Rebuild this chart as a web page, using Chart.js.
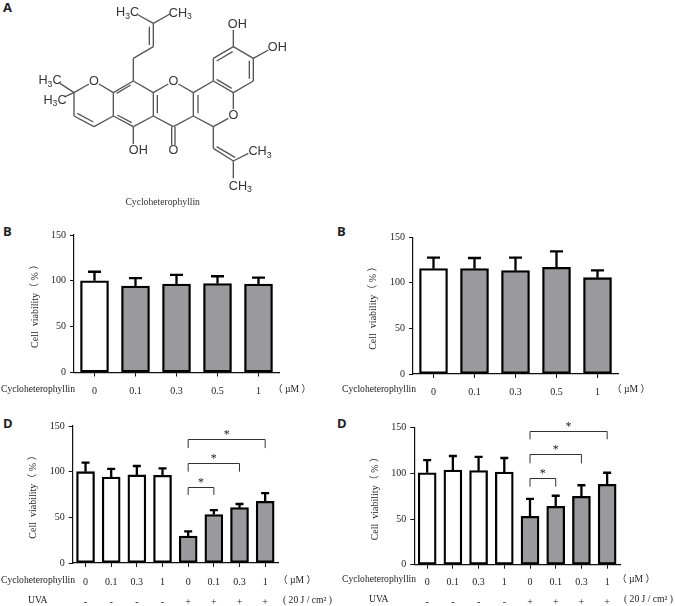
<!DOCTYPE html>
<html>
<head>
<meta charset="utf-8">
<title>Cycloheterophyllin</title>
<script src="https://cdn.jsdelivr.net/npm/chart.js@4"></script>
<style>
  html, body { margin: 0; background: #fff; }
  body { position: relative; width: 675px; height: 606px; overflow: hidden; }
  canvas { position: absolute; filter: blur(0.3px); }
  #mol { position: absolute; left: 0; top: 0; filter: blur(0.35px); }
  #mol line { stroke: #555; stroke-width: 4; }
  #mol text { font-family: "Liberation Sans", sans-serif; font-size: 38px; fill: #333; }
  #mol .cap { font-family: "Liberation Serif", serif; font-size: 29px; }
  .tag { position: absolute; font: bold 13px "Open Sans", sans-serif; color: #222; line-height: 14px; }
</style>
</head>
<body>

<div class="tag" style="left:3px;top:0">A</div>
<div class="tag" style="left:3px;top:224px">B</div>
<div class="tag" style="left:337px;top:224px">B</div>
<div class="tag" style="left:3px;top:416px">D</div>
<div class="tag" style="left:337px;top:416px">D</div>

<!-- structure drawing, units are 3x the page pixels -->
<svg id="mol" width="340" height="215" viewBox="0 0 1020 645">
  <g>
    <line x1="700" y1="140" x2="760" y2="175"/><line x1="760" y1="175" x2="760" y2="243"/>
    <line x1="760" y1="243" x2="700" y2="278"/><line x1="700" y1="278" x2="640" y2="243"/>
    <line x1="640" y1="243" x2="640" y2="175"/><line x1="640" y1="175" x2="700" y2="140"/>
    <line x1="698" y1="155" x2="650" y2="183"/><line x1="748" y1="182" x2="748" y2="236"/>
    <line x1="695" y1="265" x2="650" y2="238"/>
    <line x1="700" y1="140" x2="700" y2="90"/><line x1="760" y1="175" x2="805" y2="150"/>
    <line x1="700" y1="278" x2="700" y2="328"/><line x1="685" y1="355" x2="640" y2="380"/>
    <line x1="640" y1="380" x2="580" y2="348"/><line x1="580" y1="348" x2="580" y2="278"/>
    <line x1="580" y1="278" x2="640" y2="243"/><line x1="594" y1="285" x2="594" y2="340"/>
    <line x1="580" y1="278" x2="535" y2="252"/><line x1="505" y1="252" x2="460" y2="278"/>
    <line x1="460" y1="278" x2="460" y2="348"/><line x1="472" y1="285" x2="472" y2="340"/>
    <line x1="460" y1="348" x2="520" y2="380"/><line x1="520" y1="380" x2="580" y2="348"/>
    <line x1="515" y1="380" x2="515" y2="435"/><line x1="525" y1="380" x2="525" y2="435"/>
    <line x1="460" y1="278" x2="400" y2="243"/><line x1="400" y1="243" x2="340" y2="278"/>
    <line x1="392" y1="255" x2="350" y2="280"/><line x1="340" y1="278" x2="340" y2="348"/>
    <line x1="340" y1="348" x2="400" y2="380"/><line x1="352" y1="345" x2="395" y2="368"/>
    <line x1="400" y1="380" x2="460" y2="348"/><line x1="400" y1="380" x2="400" y2="432"/>
    <line x1="400" y1="243" x2="400" y2="175"/><line x1="400" y1="175" x2="460" y2="140"/>
    <line x1="460" y1="140" x2="460" y2="70"/><line x1="448" y1="135" x2="448" y2="80"/>
    <line x1="460" y1="70" x2="415" y2="45"/><line x1="460" y1="70" x2="510" y2="42"/>
    <line x1="340" y1="278" x2="297" y2="252"/><line x1="267" y1="252" x2="222" y2="278"/>
    <line x1="222" y1="278" x2="222" y2="348"/><line x1="222" y1="348" x2="282" y2="380"/>
    <line x1="232" y1="340" x2="280" y2="366"/><line x1="282" y1="380" x2="340" y2="348"/>
    <line x1="222" y1="278" x2="180" y2="250"/><line x1="222" y1="278" x2="195" y2="290"/>
    <line x1="640" y1="380" x2="640" y2="445"/><line x1="640" y1="445" x2="700" y2="483"/>
    <line x1="650" y1="440" x2="705" y2="472"/><line x1="700" y1="483" x2="745" y2="460"/>
    <line x1="700" y1="483" x2="700" y2="535"/>
  </g>
  <g text-anchor="middle">
    <text x="712" y="84">OH</text>
    <text x="832" y="153">OH</text>
    <text x="700" y="358">O</text>
    <text x="520" y="256">O</text>
    <text x="520" y="463">O</text>
    <text x="282" y="256">O</text>
    <text x="415" y="463">OH</text>
    <text x="383" y="49">H<tspan font-size="26" dy="7">3</tspan><tspan dy="-7">C</tspan></text>
    <text x="541" y="50">CH<tspan font-size="26" dy="7">3</tspan></text>
    <text x="150" y="253">H<tspan font-size="26" dy="7">3</tspan><tspan dy="-7">C</tspan></text>
    <text x="165" y="311">H<tspan font-size="26" dy="7">3</tspan><tspan dy="-7">C</tspan></text>
    <text x="780" y="466">CH<tspan font-size="26" dy="7">3</tspan></text>
    <text x="721" y="569">CH<tspan font-size="26" dy="7">3</tspan></text>
    <text class="cap" x="488" y="616">Cycloheterophyllin</text>
  </g>
</svg>

<canvas id="b1"></canvas>
<canvas id="b2"></canvas>
<canvas id="d1"></canvas>
<canvas id="d2"></canvas>

<script>
// concentrations
const doseLabels = ["0", "0.1", "0.3", "0.5", "1"];
const uvaDoseLabels = ["0", "0.1", "0.3", "1", "0", "0.1", "0.3", "1"];
const uvaSigns = ["-", "-", "-", "-", "+", "+", "+", "+"];

// cell viability (%), bar top and top of the error bar
const b1Values = [100, 94.2, 96.4, 97, 96.4];
const b1Upper = [109.9, 103, 106.6, 105, 103.6];
const b2Values = [115.6, 115.6, 113.4, 117, 105.7];
const b2Upper = [127.7, 127.3, 127.7, 134.6, 113.8];
const d1Values = [100, 94, 96.4, 96, 29.6, 53, 60.6, 67.5];
const d1Upper = [110, 103, 106.2, 103.6, 34.7, 58, 64.6, 76.6];
const d2Values = [100.7, 103.6, 103, 101.5, 53, 64, 74.8, 88];
const d2Upper = [114.6, 119, 118, 116.8, 72, 75.5, 87, 100.7];

// significance brackets: [from bar, to bar, line value, end of the drop]
const d1Brackets = [[4, 7, 135.4, 125.8], [4, 6, 109, 100], [4, 5, 82.9, 74.5]];
const d2Brackets = [[4, 7, 146, 137.3], [4, 6, 121, 111], [4, 5, 94.6, 85.4]];

const serif = '"Liberation Serif", "Noto Sans CJK SC", serif';
const ink = "#222";

// error bars, brackets and the row captions below the axis
const extras = {
    id: "extras",
    afterDatasetsDraw(chart, args, o) {
        const { ctx } = chart;
        const x = chart.scales.x, y = chart.scales.y;
        ctx.save();
        ctx.strokeStyle = "#000";
        ctx.lineWidth = 2.3;
        o.upper.forEach((top, i) => {
            const px = x.getPixelForValue(i);
            ctx.beginPath();
            ctx.moveTo(px, y.getPixelForValue(chart.data.datasets[0].data[i]));
            ctx.lineTo(px, y.getPixelForValue(top));
            ctx.moveTo(px - o.cap, y.getPixelForValue(top));
            ctx.lineTo(px + o.cap, y.getPixelForValue(top));
            ctx.stroke();
        });

        ctx.strokeStyle = "#333";
        ctx.lineWidth = 1;
        ctx.fillStyle = ink;
        (o.brackets || []).forEach(([a, b, line, drop]) => {
            const xa = x.getPixelForValue(a), xb = x.getPixelForValue(b);
            const yl = Math.round(y.getPixelForValue(line)) + 0.5;
            ctx.beginPath();
            ctx.moveTo(xa, y.getPixelForValue(drop));
            ctx.lineTo(xa, yl);
            ctx.lineTo(xb, yl);
            ctx.lineTo(xb, y.getPixelForValue(drop));
            ctx.stroke();
            ctx.font = "12px " + serif;
            ctx.textAlign = "center";
            ctx.textBaseline = "middle";
            ctx.fillText("*", (xa + xb) / 2, yl - 5);
        });

        ctx.font = "9.6px " + serif;
        ctx.textBaseline = "middle";
        ctx.textAlign = "left";
        o.captions.forEach(c => ctx.fillText(c.text, c.x, y.bottom + c.dy));
        ctx.restore();
    }
};

function drawPanel(id, box, labels, values, opts) {
    const canvas = document.getElementById(id);
    canvas.width = box.w;
    canvas.height = box.h;
    canvas.style.left = box.left + "px";
    canvas.style.top = box.top + "px";
    new Chart(canvas, {
        type: "bar",
        data: {
            labels: labels,
            datasets: [{
                data: values,
                backgroundColor: values.map((v, i) => i < opts.openBars ? "#ffffff" : "#9a9a9c"),
                borderColor: "#000",
                borderWidth: 2.3,
                borderSkipped: false,
                barThickness: opts.barWidth
            }]
        },
        plugins: [extras],
        options: {
            responsive: false,
            animation: false,
            layout: {
                padding: {
                    left: 0,
                    top: box.y150 - box.top,
                    right: box.left + box.w - box.xEnd,
                    bottom: box.top + box.h - box.y0 - 42
                }
            },
            plugins: {
                legend: { display: false },
                tooltip: { enabled: false },
                extras: { upper: opts.upper, cap: opts.cap, brackets: opts.brackets, captions: opts.captions }
            },
            scales: {
                x: {
                    offset: true,
                    afterFit: s => { s.height = 42; },
                    border: { color: "#111", width: 1.2 },
                    grid: { offset: false, drawOnChartArea: false, color: "#111", tickLength: 4 },
                    ticks: {
                        color: ink,
                        padding: box.tickGap,
                        maxRotation: 0,
                        autoSkip: false,
                        font: { family: serif, size: 10, lineHeight: "20px" }
                    }
                },
                y: {
                    min: 0,
                    max: 150,
                    afterFit: s => { s.width = box.x0 - box.left; },
                    border: { color: "#111", width: 1.2 },
                    grid: { drawOnChartArea: false, color: "#111", tickLength: 4 },
                    ticks: {
                        stepSize: 50,
                        color: ink,
                        padding: 4,
                        font: { family: serif, size: 10 }
                    },
                    title: {
                        display: true,
                        text: "Cell  viability（ % ）",
                        color: ink,
                        padding: { top: box.titleGap, bottom: 0 },
                        font: { family: serif, size: 10 }
                    }
                }
            }
        }
    });
}

const twoRow = (a, b) => a.map((t, i) => [t, b[i]]);

drawPanel("b1", { left: 0, top: 225, w: 335, h: 185, x0: 74, xEnd: 279, y150: 235, y0: 372.5, titleGap: 29, tickGap: 5 },
    doseLabels, b1Values, {
        openBars: 1, barWidth: 28, upper: b1Upper, cap: 6.5,
        captions: [{ text: "Cycloheterophyllin", x: 1, dy: 16.5 }, { text: "（ µM ）", x: 273, dy: 16.5 }]
    });

drawPanel("b2", { left: 340, top: 225, w: 335, h: 185, x0: 413, xEnd: 618, y150: 237.3, y0: 374, titleGap: 27, tickGap: 4.5 },
    doseLabels, b2Values, {
        openBars: 1, barWidth: 28, upper: b2Upper, cap: 6.5,
        captions: [{ text: "Cycloheterophyllin", x: 2, dy: 15 }, { text: "（ µM ）", x: 272, dy: 15 }]
    });

drawPanel("d1", { left: 0, top: 415, w: 335, h: 191, x0: 72.7, xEnd: 278, y150: 426, y0: 563, titleGap: 27, tickGap: 5.5 },
    twoRow(uvaDoseLabels, uvaSigns), d1Values, {
        openBars: 4, barWidth: 18, upper: d1Upper, cap: 4, brackets: d1Brackets,
        captions: [
            { text: "Cycloheterophyllin", x: 1, dy: 17 }, { text: "（ µM ）", x: 278, dy: 17 },
            { text: "UVA", x: 28, dy: 37 }, { text: "( 20 J / cm² )", x: 283, dy: 37 }
        ]
    });

drawPanel("d2", { left: 340, top: 415, w: 335, h: 191, x0: 414.3, xEnd: 620, y150: 427.7, y0: 564.7, titleGap: 29, tickGap: 4 },
    twoRow(uvaDoseLabels, uvaSigns), d2Values, {
        openBars: 4, barWidth: 18, upper: d2Upper, cap: 4, brackets: d2Brackets,
        captions: [
            { text: "Cycloheterophyllin", x: 2, dy: 15 }, { text: "（ µM ）", x: 277, dy: 15 },
            { text: "UVA", x: 29, dy: 35 }, { text: "( 20 J / cm² )", x: 284, dy: 35 }
        ]
    });
</script>
</body>
</html>
